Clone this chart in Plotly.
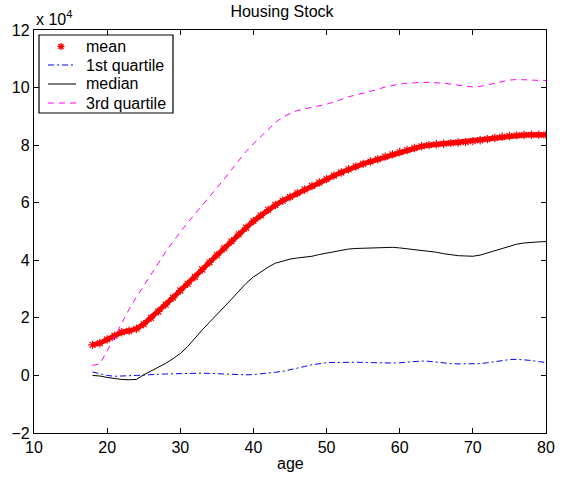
import plotly.graph_objects as go

# Age grid and housing stock statistics (in units of 10^4)
age = list(range(18, 81))

mean_stock = [
    1.06, 1.12, 1.25, 1.38, 1.50, 1.55, 1.62, 1.78, 2.00, 2.22,
    2.46, 2.70, 2.95, 3.18, 3.42, 3.68, 3.93, 4.18, 4.42, 4.66,
    4.90, 5.13, 5.36, 5.56, 5.75, 5.92, 6.07, 6.20, 6.33, 6.46,
    6.58, 6.70, 6.82, 6.94, 7.05, 7.16, 7.26, 7.35, 7.43, 7.51,
    7.60, 7.68, 7.76, 7.83, 7.90, 7.96, 8.00, 8.03, 8.05, 8.07,
    8.09, 8.11, 8.14, 8.17, 8.21, 8.25, 8.29, 8.32, 8.34, 8.35,
    8.36, 8.36, 8.36,
]

q1_stock = [
    0.12, 0.06, 0.00, -0.03, -0.03, -0.01, 0.00, 0.02, 0.03, 0.04,
    0.05, 0.06, 0.07, 0.08, 0.08, 0.08, 0.07, 0.06, 0.05, 0.03,
    0.02, 0.02, 0.03, 0.05, 0.08, 0.11, 0.14, 0.19, 0.25, 0.31,
    0.37, 0.41, 0.44, 0.45, 0.46, 0.46, 0.46, 0.45, 0.44, 0.43,
    0.43, 0.43, 0.44, 0.46, 0.49, 0.50, 0.49, 0.46, 0.43, 0.41,
    0.40, 0.40, 0.40, 0.41, 0.44, 0.48, 0.52, 0.55, 0.56, 0.55,
    0.52, 0.48, 0.45,
]

median_stock = [
    0.00, -0.02, -0.07, -0.11, -0.14, -0.15, -0.14, 0.02, 0.15, 0.30,
    0.42, 0.58, 0.76, 1.00, 1.30, 1.58, 1.85, 2.10, 2.38, 2.65,
    2.92, 3.20, 3.42, 3.60, 3.76, 3.90, 3.98, 4.04, 4.08, 4.10,
    4.14, 4.20, 4.25, 4.30, 4.35, 4.39, 4.41, 4.42, 4.43, 4.44,
    4.44, 4.45, 4.43, 4.40, 4.37, 4.35, 4.32, 4.28, 4.23, 4.19,
    4.16, 4.15, 4.14, 4.18, 4.26, 4.34, 4.42, 4.50, 4.56, 4.60,
    4.63, 4.64, 4.65,
]

q3_stock = [
    0.35, 0.40, 0.85, 1.35, 1.85, 2.30, 2.72, 3.10, 3.50, 3.90,
    4.30, 4.65, 4.98, 5.30, 5.60, 5.90, 6.20, 6.50, 6.82, 7.15,
    7.47, 7.78, 8.05, 8.30, 8.55, 8.78, 8.98, 9.10, 9.20, 9.26,
    9.31, 9.36, 9.42, 9.50, 9.60, 9.68, 9.74, 9.80, 9.87, 9.94,
    10.02, 10.08, 10.12, 10.15, 10.17, 10.18, 10.18, 10.17, 10.15, 10.12,
    10.08, 10.04, 10.02, 10.04, 10.10, 10.16, 10.22, 10.26, 10.28, 10.27,
    10.25, 10.24, 10.24,
]

x_ticks = [10, 20, 30, 40, 50, 60, 70, 80]
y_ticks = [-2, 0, 2, 4, 6, 8, 10, 12]

series_labels = ["mean", "1st quartile", "median", "3rd quartile"]

FONT = "Liberation Sans, Arial, Helvetica, sans-serif"
FS = 16

# figure geometry (pixels)
W, H = 564, 477
ML, MR, MT, MB = 34, 18, 30, 44
PW, PH = W - ML - MR, H - MT - MB

# line styles shared by the traces and the legend keys
styles = {
    "1st quartile": dict(color="#0000ff", width=1, dash="6px,3px,2px,3px"),
    "median": dict(color="black", width=1),
    "3rd quartile": dict(color="#ff00ff", width=1, dash="6px,5px"),
}

fig = go.Figure()

# solid red band under the mean markers
fig.add_trace(go.Scatter(
    x=age, y=mean_stock, mode="lines",
    line=dict(color="red", width=5), hoverinfo="skip",
))
fig.add_trace(go.Scatter(
    x=age, y=mean_stock, mode="markers", name="mean",
    marker=dict(symbol="asterisk-open", size=7, color="red",
                line=dict(color="red", width=1.2)),
))
fig.add_trace(go.Scatter(x=age, y=q1_stock, mode="lines",
                         name="1st quartile", line=styles["1st quartile"]))
fig.add_trace(go.Scatter(x=age, y=median_stock, mode="lines",
                         name="median", line=styles["median"]))
fig.add_trace(go.Scatter(x=age, y=q3_stock, mode="lines",
                         name="3rd quartile", line=styles["3rd quartile"]))


def px_x(p):
    """horizontal pixel offset inside the plot area -> paper fraction"""
    return p / PW


def px_y(p):
    """vertical pixel offset from the plot top -> paper fraction"""
    return 1 - p / PH


# boxed legend in the upper-left corner of the axes
shapes = [dict(
    type="rect", xref="paper", yref="paper",
    x0=px_x(5), x1=px_x(139), y0=px_y(83), y1=px_y(5),
    line=dict(color="black", width=1.2), fillcolor="white", layer="above",
)]
annotations = []
row_y = [16.5, 35, 54, 73]
for label, ry in zip(series_labels, row_y):
    if label == "mean":
        shapes.append(dict(
            type="path", xref="paper", yref="paper",
            xsizemode="pixel", ysizemode="pixel",
            xanchor=px_x(27), yanchor=px_y(ry),
            path="M -3.5 0 L 3.5 0 M 0 -3.5 L 0 3.5 "
                 "M -2.5 -2.5 L 2.5 2.5 M -2.5 2.5 L 2.5 -2.5",
            line=dict(color="red", width=1.3), layer="above",
        ))
    else:
        st = styles[label]
        shapes.append(dict(
            type="line", xref="paper", yref="paper",
            x0=px_x(14), x1=px_x(42), y0=px_y(ry), y1=px_y(ry),
            line=dict(color=st["color"], width=st["width"],
                      dash=st.get("dash", "solid")),
            layer="above",
        ))
    annotations.append(dict(
        text=label, xref="paper", yref="paper",
        x=px_x(50), y=px_y(ry), xanchor="left", yanchor="middle",
        showarrow=False, font=dict(family=FONT, size=FS, color="black"),
    ))

# axis exponent above the y axis
annotations.append(dict(
    text="x 10<sup>4</sup>", xref="paper", yref="paper",
    x=0, y=1, xanchor="left", yanchor="bottom", yshift=0,
    showarrow=False, font=dict(family=FONT, size=FS, color="black"),
))

# x-axis label under the tick labels
annotations.append(dict(
    text="age", xref="paper", yref="paper",
    x=0.5, y=0, xanchor="center", yanchor="middle", yshift=-30,
    showarrow=False, font=dict(family=FONT, size=FS, color="black"),
))

axis_common = dict(
    showline=True, linecolor="black", linewidth=1.3, mirror="ticks",
    ticks="inside", ticklen=5, tickcolor="black", tickwidth=1,
    showgrid=False, zeroline=False, automargin=False,
    tickfont=dict(family=FONT, size=FS, color="black"),
)

fig.update_layout(
    width=W, height=H,
    margin=dict(l=ML, r=MR, t=MT, b=MB),
    paper_bgcolor="white", plot_bgcolor="white",
    showlegend=False,
    font=dict(family=FONT, size=FS, color="black"),
    title=dict(text="Housing Stock", x=0.5, xanchor="center",
               y=1 - 11 / H, yanchor="middle",
               font=dict(family=FONT, size=FS, color="black")),
    xaxis=dict(range=[10, 80], tickvals=x_ticks, **axis_common),
    yaxis=dict(range=[-2, 12], tickvals=y_ticks, **axis_common),
    shapes=shapes,
    annotations=annotations,
)

fig.write_html("out.html")
